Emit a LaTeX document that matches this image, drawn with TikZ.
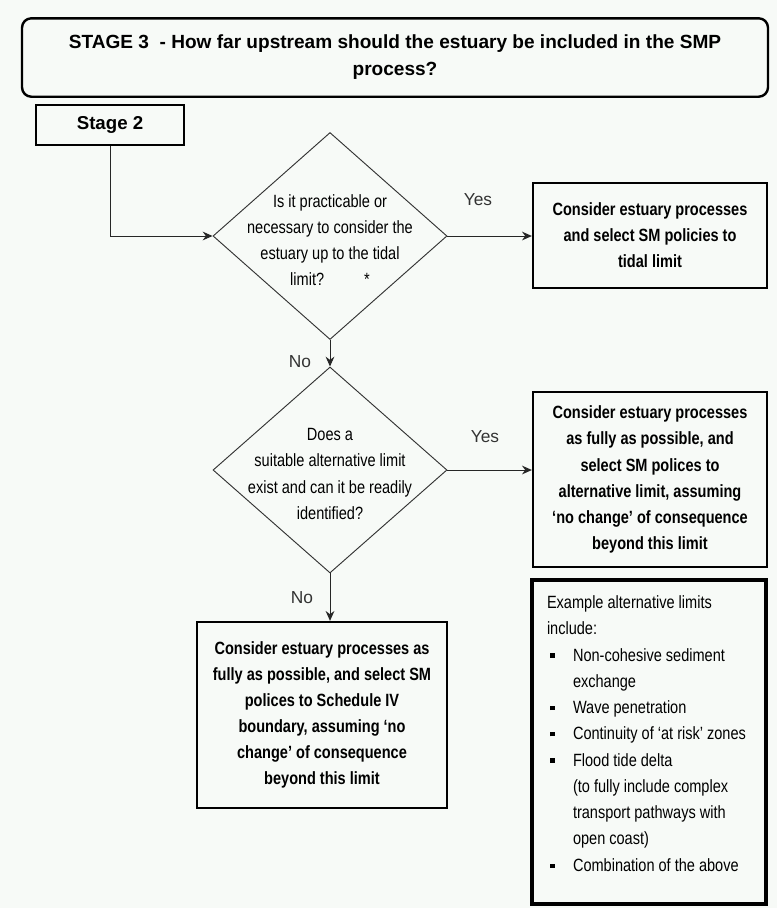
\documentclass[tikz,border=0pt]{standalone}
\usepackage{fontspec}
\setmainfont{Liberation Sans}
\newfontfamily\narrowsf{Liberation Sans}[FakeStretch=0.82]
\usepackage{tikz}
\usetikzlibrary{arrows.meta,shapes.geometric}
\definecolor{paper}{RGB}{247,250,247}
\newcommand{\limbul}{\makebox[19.5pt][l]{\hspace{2.5pt}\raisebox{2.6pt}{\rule{3.2pt}{3.2pt}}}}
\newcommand{\limpad}{\hspace*{19.5pt}}

\begin{document}
\begin{tikzpicture}[
  x=0.75pt, y=-0.75pt,
  >={Stealth[length=2.6mm,width=2.3mm]},
  titlebox/.style={rectangle, rounded corners=7pt, draw=black, line width=1.8pt,
                   align=center, font=\fontsize{14.3}{20.25}\selectfont\bfseries},
  startbox/.style={rectangle, draw=black, line width=1.5pt,
                   font=\fontsize{14}{17}\selectfont\bfseries},
  decision/.style={diamond, draw=black!80, line width=0.7pt, inner sep=0pt},
  qtext/.style={align=center, inner sep=0pt,
                font=\narrowsf\fontsize{13.3}{19.6}\selectfont},
  outcome/.style={rectangle, draw=black, line width=1.7pt, align=center,
                  font=\narrowsf\bfseries\fontsize{13.3}{19.6}\selectfont},
  notebox/.style={rectangle, draw=black, line width=2.5pt, align=flush left,
                  text width=153pt, inner xsep=11.25pt,
                  font=\narrowsf\fontsize{13.3}{19.7}\selectfont},
  flow/.style={->, draw=black!85, line width=0.75pt},
  lbl/.style={font=\fontsize{13}{15}\selectfont, text=black!80, inner sep=1pt},
]
\fill[paper] (0,0) rectangle (777,908);
\useasboundingbox (0,0) rectangle (777,908);
% heading
\node[titlebox, minimum width=559.5pt, minimum height=58.8pt] (title) at (395,57.5)
  {STAGE 3\ \ - How far upstream should the estuary be included in the SMP\\process?};
\node[startbox, minimum width=111pt, minimum height=30pt] (stage2) at (110,125)
  {\raisebox{-2pt}{Stage 2}};
% first question
\node[decision, minimum width=175.5pt, minimum height=155.25pt] (q1) at (330,236) {};
\node[qtext, yshift=-3pt] (q1txt) at (q1)
  {Is it practicable or\\necessary to consider the\\estuary up to the tidal\\
   limit?\hspace{30pt}*\hspace{28pt}};
\node[outcome, minimum width=175.5pt, minimum height=78.75pt] (tidal) at (650,235.5)
  {Consider estuary processes\\and select SM policies to\\tidal limit};
% second question
\node[decision, minimum width=175.5pt, minimum height=154.5pt] (q2) at (330,470) {};
\node[qtext, yshift=-3pt] (q2txt) at (q2)
  {Does a\\suitable alternative limit\\exist and can it be readily\\identified?};
\node[outcome, minimum width=175.5pt, minimum height=131.25pt] (altlim) at (650,479.5)
  {Consider estuary processes\\as fully as possible, and\\select SM polices to\\
   alternative limit, assuming\\‘no change’ of consequence\\beyond this limit};
\node[outcome, minimum width=187.5pt, minimum height=139.5pt] (sched) at (322,715)
  {Consider estuary processes as\\fully as possible, and select SM\\polices to Schedule IV\\
   boundary, assuming ‘no\\change’ of consequence\\beyond this limit};
% examples
\node[notebox, minimum height=243pt] (examples) at (649,742)
  {Example alternative limits\\
   include:\\
   \limbul Non-cohesive sediment\\
   \limpad exchange\\
   \limbul Wave penetration\\
   \limbul Continuity of ‘at risk’ zones\\
   \limbul Flood tide delta\\
   \limpad (to fully include complex\\
   \limpad transport pathways with\\
   \limpad open coast)\\
   \limbul Combination of the above\rule[-12.75pt]{0pt}{0pt}};
% connectors
\draw[flow] (stage2.south) |- (q1.west);
\draw[flow] (q1.east) -- (q1.east -| tidal.west);
\draw[flow] (q1.south) -- (q2.north);
\draw[flow] (q2.east) -- (q2.east -| altlim.west);
\draw[flow] (q2.south) -- (q2.south |- sched.north);
% labels
\node[lbl] (yes1) at (478,200) {Yes};
\node[lbl] (no1) at (300,362) {No};
\node[lbl] (yes2) at (485,437) {Yes};
\node[lbl] (no2) at (302,598) {No};
\end{tikzpicture}
\end{document}
